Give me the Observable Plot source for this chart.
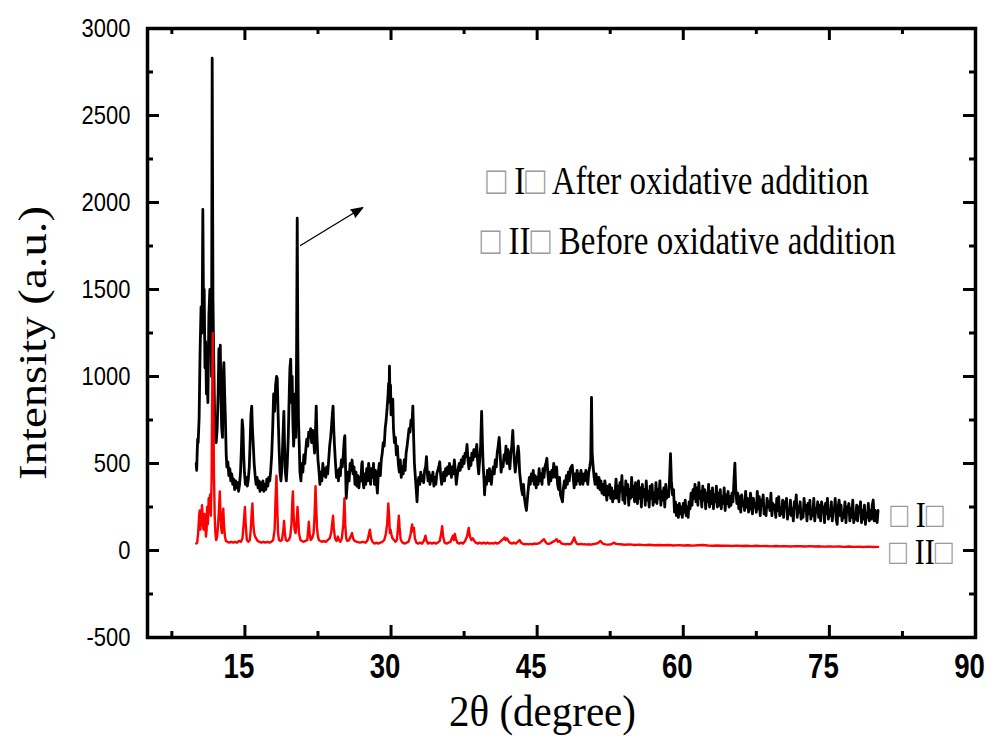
<!DOCTYPE html>
<html>
<head>
<meta charset="utf-8">
<script src="https://cdn.jsdelivr.net/npm/d3@7"></script>
<script src="https://cdn.jsdelivr.net/npm/@observablehq/plot@0.6"></script>
<style>
  html, body { margin: 0; padding: 0; background: #fff; }
  #chart { width: 997px; height: 742px; }
</style>
</head>
<body>
<div id="chart"></div>
<script>
// ---------- tick values ----------
const xMajorTicks = [15, 30, 45, 60, 75, 90];
const xMinorTicks = [7.5, 22.5, 37.5, 52.5, 67.5, 82.5];
const yMajorTicks = [-500, 0, 500, 1000, 1500, 2000, 2500, 3000];
const yMinorTicks = [-250, 250, 750, 1250, 1750, 2250, 2750];

// ---------- texts ----------
const xTitle = "2θ (degree)";
const yTitle = "Intensity (a.u.)";
const noteTexts = ["□ I□ After oxidative addition", "□ II□ Before oxidative addition"];
const noteAt = [[59.4, 2121], [60.5, 1776]];          // [2θ, intensity]
const curveLabels = ["□ I□", "□ II□"];
const curveLabelAt = [[84.0, 201], [84.4, -11]];      // [2θ, intensity]
const arrowFrom = [20.7, 1753];
const arrowTo = [27.1, 1971];

// ---------- series I : after oxidative addition  [2θ, intensity] ----------
const seriesI = [
[10.0,500],[10.05,460],[10.1,560],[10.15,640],[10.2,620],[10.3,760],[10.4,1150],[10.5,1400],[10.6,1250],[10.68,1960],
[10.75,1400],[10.82,1500],[10.9,1050],[10.97,1200],[11.05,900],[11.12,1000],[11.2,850],[11.3,1350],[11.4,1500],[11.5,1350],
[11.57,1000],[11.64,2830],[11.72,1450],[11.8,1100],[11.88,800],[11.95,650],[12.05,620],[12.15,700],[12.25,900],[12.33,1160],
[12.4,1050],[12.47,1180],[12.55,850],[12.62,700],[12.7,650],[12.77,1000],[12.84,1080],[12.92,900],[13.0,750],[13.08,550],
[13.15,480],[13.25,510],[13.35,430],[13.45,470],[13.55,400],[13.65,440],[13.75,380],[13.85,410],[13.95,350],[14.05,400],
[14.15,360],[14.25,390],[14.35,340],[14.45,380],[14.55,450],[14.65,600],[14.72,750],[14.8,700],[14.87,550],[14.95,450],
[15.05,380],[15.15,420],[15.25,370],[15.35,410],[15.45,480],[15.55,650],[15.62,780],[15.7,830],[15.77,700],[15.85,620],
[15.95,500],[16.05,430],[16.15,380],[16.25,420],[16.35,360],[16.45,400],[16.55,340],[16.65,390],[16.75,350],[16.85,400],
[16.95,340],[17.05,380],[17.15,350],[17.25,410],[17.35,370],[17.45,420],[17.55,400],[17.65,460],[17.75,550],[17.85,700],
[17.95,900],[18.05,800],[18.15,950],[18.25,1000],[18.32,990],[18.4,800],[18.5,600],[18.6,450],[18.7,400],[18.8,480],
[18.9,650],[19.0,800],[19.07,600],[19.15,450],[19.25,400],[19.35,500],[19.45,650],[19.55,900],[19.62,1050],[19.7,1100],
[19.78,850],[19.85,1000],[19.92,750],[20.0,600],[20.08,700],[20.15,900],[20.22,650],[20.3,1100],[20.37,1910],[20.43,1200],
[20.5,750],[20.58,600],[20.65,450],[20.75,400],[20.85,500],[20.95,450],[21.05,550],[21.15,500],[21.25,580],[21.35,640],
[21.45,600],[21.55,680],[21.65,650],[21.75,700],[21.85,620],[21.95,690],[22.05,640],[22.15,560],[22.25,700],[22.32,830],
[22.4,650],[22.5,520],[22.6,460],[22.7,380],[22.8,450],[22.9,400],[23.0,500],[23.1,430],[23.2,470],[23.3,420],
[23.4,480],[23.5,440],[23.6,520],[23.7,600],[23.8,650],[23.9,720],[24.0,800],[24.05,830],[24.12,700],[24.2,600],
[24.3,500],[24.4,420],[24.5,460],[24.6,400],[24.7,470],[24.8,430],[24.9,520],[25.0,480],[25.1,550],[25.2,640],
[25.26,660],[25.32,500],[25.4,300],[25.5,380],[25.6,450],[25.7,400],[25.8,500],[25.9,460],[26.0,520],[26.1,440],
[26.2,480],[26.3,380],[26.4,450],[26.5,370],[26.6,430],[26.7,360],[26.8,420],[26.9,400],[27.0,500],[27.05,510],
[27.12,400],[27.2,360],[27.3,440],[27.4,380],[27.5,470],[27.6,400],[27.7,500],[27.8,450],[27.9,380],[28.0,470],
[28.1,420],[28.2,500],[28.3,380],[28.4,460],[28.5,400],[28.6,330],[28.7,450],[28.8,500],[28.9,430],[29.0,520],
[29.1,560],[29.2,620],[29.3,600],[29.4,700],[29.5,750],[29.6,820],[29.7,900],[29.75,960],[29.8,900],[29.84,1060],
[29.9,850],[29.95,950],[30.0,780],[30.1,850],[30.18,870],[30.25,700],[30.35,620],[30.45,650],[30.55,550],[30.65,600],
[30.75,500],[30.85,450],[30.95,520],[31.05,420],[31.15,480],[31.25,440],[31.35,520],[31.45,460],[31.55,560],[31.65,600],
[31.75,650],[31.85,700],[31.95,680],[32.05,750],[32.15,720],[32.24,830],[32.32,650],[32.4,500],[32.5,420],[32.6,340],
[32.67,280],[32.75,380],[32.85,420],[32.95,380],[33.05,450],[33.15,400],[33.25,430],[33.35,390],[33.45,460],[33.55,480],
[33.64,540],[33.72,450],[33.8,400],[33.9,450],[34.0,380],[34.1,430],[34.2,400],[34.3,450],[34.4,370],[34.5,420],
[34.6,380],[34.7,440],[34.8,460],[34.9,480],[35.0,510],[35.1,430],[35.2,380],[35.3,420],[35.4,450],[35.5,400],
[35.6,470],[35.7,430],[35.8,480],[35.9,440],[36.0,500],[36.1,470],[36.2,420],[36.3,480],[36.4,440],[36.5,520],
[36.6,460],[36.7,380],[36.8,430],[36.9,470],[37.0,500],[37.1,460],[37.2,520],[37.3,480],[37.4,540],[37.5,500],
[37.6,560],[37.7,540],[37.8,610],[37.9,520],[38.0,470],[38.1,530],[38.2,490],[38.3,560],[38.4,520],[38.5,580],
[38.6,540],[38.7,560],[38.8,610],[38.9,500],[39.0,440],[39.1,520],[39.2,600],[39.3,800],[39.38,620],[39.45,500],
[39.55,400],[39.6,320],[39.7,420],[39.8,380],[39.9,460],[40.0,400],[40.1,470],[40.2,420],[40.3,380],[40.4,450],
[40.5,480],[40.6,440],[40.7,520],[40.8,480],[40.9,560],[41.0,600],[41.1,650],[41.2,560],[41.3,450],[41.4,500],
[41.5,480],[41.6,550],[41.7,520],[41.8,600],[41.9,500],[42.0,580],[42.1,520],[42.2,470],[42.3,560],[42.4,600],
[42.5,690],[42.55,620],[42.65,520],[42.75,450],[42.85,500],[42.95,550],[43.05,600],[43.12,560],[43.2,450],[43.3,400],
[43.4,350],[43.5,320],[43.6,380],[43.7,300],[43.8,260],[43.9,230],[44.0,300],[44.1,360],[44.2,420],[44.3,380],
[44.4,440],[44.5,400],[44.6,460],[44.7,380],[44.8,430],[44.9,360],[45.0,420],[45.1,380],[45.2,470],[45.3,400],
[45.4,440],[45.5,380],[45.6,470],[45.7,420],[45.8,480],[45.9,500],[46.0,530],[46.1,440],[46.2,380],[46.3,450],
[46.4,400],[46.5,460],[46.6,420],[46.7,500],[46.8,450],[46.9,420],[47.0,480],[47.1,380],[47.2,350],[47.3,420],
[47.4,320],[47.5,300],[47.6,280],[47.7,360],[47.8,400],[47.9,360],[48.0,430],[48.1,380],[48.2,450],[48.3,400],
[48.4,470],[48.5,480],[48.6,490],[48.7,420],[48.8,360],[48.9,440],[49.0,380],[49.1,460],[49.2,400],[49.3,440],
[49.4,380],[49.5,460],[49.6,420],[49.7,380],[49.8,440],[49.9,400],[50.0,460],[50.1,420],[50.2,380],[50.3,450],
[50.4,480],[50.5,520],[50.58,880],[50.65,560],[50.75,480],[50.85,420],[50.95,380],[51.05,440],[51.15,400],[51.25,360],
[51.35,420],[51.45,350],[51.55,400],[51.65,330],[51.75,380],[51.85,320],[51.95,400],[52.05,350],[52.15,290],[52.25,370],
[52.35,320],[52.45,380],[52.55,300],[52.65,360],[52.75,280],[52.85,340],[52.95,300],
[53.0,330],[53.1,410],[53.2,300],[53.3,370],[53.4,280],[53.5,390],[53.6,340],[53.7,430],[53.8,290],[53.9,360],
[54.0,270],[54.1,400],[54.2,320],[54.3,380],[54.4,260],[54.5,350],[54.6,300],[54.7,420],[54.8,310],[54.9,370],
[55.0,280],[55.1,390],[55.2,330],[55.3,270],[55.4,400],[55.5,300],[55.6,360],[55.7,250],[55.8,380],[55.9,310],
[56.0,350],[56.1,260],[56.2,400],[56.3,290],[56.4,340],[56.5,250],[56.6,370],[56.7,300],[56.8,380],[56.9,260],
[57.0,330],[57.1,280],[57.2,390],[57.3,270],[57.4,350],[57.5,300],[57.6,400],[57.7,260],[57.8,340],[57.9,290],
[58.0,360],[58.1,250],[58.2,380],[58.3,300],[58.4,340],[58.5,310],[58.6,420],[58.69,556],[58.78,400],[58.9,320],
[59.0,350],[59.1,220],[59.2,280],[59.3,200],[59.4,260],[59.5,190],[59.6,270],[59.7,210],[59.8,250],[59.9,190],
[60.0,270],[60.1,220],[60.2,290],[60.3,200],[60.4,250],[60.5,190],[60.6,280],[60.7,240],[60.8,330],[60.9,260],
[61.0,350],[61.1,300],[61.2,380],[61.3,280],[61.4,360],[61.5,260],[61.6,390],[61.7,300],[61.8,340],[61.9,250],
[62.0,370],[62.1,290],[62.2,350],[62.3,240],[62.4,330],[62.5,280],[62.6,380],[62.7,250],[62.8,340],[62.9,270],
[63.0,360],[63.1,240],[63.2,320],[63.3,280],[63.4,370],[63.5,250],[63.6,330],[63.7,260],[63.8,350],[63.9,240],
[64.0,310],[64.1,270],[64.2,360],[64.3,230],[64.4,320],[64.5,270],[64.6,340],[64.7,250],[64.8,310],[64.9,260],
[65.0,330],[65.1,280],[65.22,420],[65.3,502],[65.38,360],[65.5,270],[65.6,330],[65.7,240],[65.8,310],[65.9,220],
[66.0,320],[66.1,260],[66.2,280],[66.3,230],[66.4,340],[66.5,250],[66.6,300],[66.7,220],[66.8,240],[66.9,330],
[67.0,280],[67.1,210],[67.2,300],[67.3,250],[67.4,270],[67.5,220],[67.6,340],[67.7,240],[67.8,310],[67.9,200],
[68.0,290],[68.1,260],[68.2,320],[68.3,210],[68.4,230],[68.5,200],[68.6,300],[68.7,250],[68.8,280],[68.9,230],
[69.0,330],[69.1,200],[69.2,270],[69.3,240],[69.4,260],[69.5,190],[69.6,300],[69.7,230],[69.8,310],[69.9,200],
[70.0,240],[70.1,210],[70.2,290],[70.3,190],[70.4,280],[70.5,260],[70.6,300],[70.7,180],[70.8,230],[70.9,210],
[71.0,290],[71.1,200],[71.2,240],[71.3,170],[71.4,280],[71.5,250],[71.6,320],[71.7,190],[71.8,250],[71.9,220],
[72.0,280],[72.1,180],[72.2,210],[72.3,190],[72.4,300],[72.5,230],[72.6,260],[72.7,170],[72.8,270],[72.9,210],
[73.0,290],[73.1,180],[73.2,230],[73.3,200],[73.4,300],[73.5,170],[73.6,240],[73.7,220],[73.8,280],[73.9,190],
[74.0,260],[74.1,170],[74.2,280],[74.3,240],[74.4,250],[74.5,160],[74.6,270],[74.7,210],[74.8,300],[74.9,180],
[75.0,220],[75.1,200],[75.2,280],[75.3,170],[75.4,240],[75.5,230],[75.6,300],[75.7,180],[75.8,150],[75.9,250],
[76.0,290],[76.1,200],[76.2,260],[76.3,170],[76.4,210],[76.5,190],[76.6,280],[76.7,160],[76.8,250],[76.9,230],
[77.0,270],[77.1,170],[77.2,240],[77.3,190],[77.4,290],[77.5,160],[77.6,200],[77.7,180],[77.8,260],[77.9,170],
[78.0,250],[78.1,220],[78.2,280],[78.3,160],[78.4,230],[78.5,180],[78.6,260],[78.7,150],[78.8,210],[78.9,190],
[79.0,270],[79.1,170],[79.2,230],[79.3,180],[79.4,260],[79.5,290],[79.6,170],[79.7,230],[79.8,180],[79.9,160],[80.0,230]
];

// ---------- series II : before oxidative addition  [2θ, intensity] ----------
const seriesII = [
[10.0,40],[10.1,45],[10.2,100],[10.3,200],[10.36,230],[10.42,120],[10.5,180],[10.6,260],[10.68,150],[10.75,120],
[10.85,210],[10.92,160],[11.0,80],[11.07,120],[11.12,250],[11.2,150],[11.28,300],[11.35,250],[11.42,320],[11.5,200],
[11.58,400],[11.64,900],[11.7,1250],[11.76,900],[11.82,450],[11.9,200],[11.97,100],[12.05,60],[12.15,80],[12.25,150],
[12.35,250],[12.42,340],[12.5,200],[12.58,120],[12.65,100],[12.72,200],[12.78,240],[12.85,150],[12.95,80],[13.05,55],
[13.2,50],[13.4,45],[13.6,50],[13.8,45],[14.0,50],[14.2,45],[14.4,55],[14.6,50],[14.75,70],[14.9,170],
[15.0,250],[15.08,150],[15.2,60],[15.35,50],[15.5,60],[15.6,120],[15.7,220],[15.77,270],[15.85,160],[15.95,100],
[16.05,80],[16.15,70],[16.3,55],[16.5,50],[16.7,45],[16.9,50],[17.1,45],[17.3,50],[17.5,45],[17.7,50],
[17.9,60],[18.05,120],[18.15,300],[18.24,430],[18.32,250],[18.4,100],[18.5,60],[18.65,55],[18.8,60],[18.95,120],
[19.02,170],[19.1,100],[19.2,60],[19.35,55],[19.5,60],[19.65,80],[19.78,150],[19.88,300],[19.93,340],[20.0,200],
[20.1,120],[20.2,100],[20.3,150],[20.4,250],[20.46,200],[20.55,100],[20.7,60],[20.85,55],[21.0,50],[21.2,55],
[21.4,60],[21.5,120],[21.56,165],[21.64,100],[21.75,60],[21.9,70],[22.05,100],[22.15,200],[22.25,370],[22.32,250],
[22.4,130],[22.5,80],[22.6,60],[22.75,55],[22.9,50],[23.1,55],[23.3,50],[23.5,60],[23.7,70],[23.85,100],
[23.95,150],[24.05,200],[24.12,130],[24.25,70],[24.4,55],[24.55,80],[24.65,60],[24.8,50],[24.95,70],[25.1,150],
[25.22,300],[25.3,150],[25.4,70],[25.5,55],[25.7,60],[25.85,80],[26.0,100],[26.1,70],[26.25,55],[26.5,50],
[26.8,45],[27.1,50],[27.4,45],[27.6,60],[27.75,100],[27.83,120],[27.95,70],[28.1,50],[28.3,40],[28.5,45],
[28.7,40],[28.9,45],[29.1,50],[29.3,60],[29.45,90],[29.6,150],[29.72,270],[29.8,200],[29.88,100],[29.95,120],
[30.05,90],[30.15,70],[30.3,60],[30.45,50],[30.6,60],[30.7,120],[30.8,200],[30.88,130],[31.0,60],[31.2,45],
[31.4,40],[31.6,45],[31.8,50],[32.0,90],[32.1,130],[32.17,150],[32.25,110],[32.35,130],[32.45,70],[32.6,45],
[32.8,40],[33.0,45],[33.2,40],[33.4,60],[33.54,85],[33.65,55],[33.8,40],[34.0,45],[34.2,40],[34.4,45],
[34.6,40],[34.8,45],[35.0,55],[35.15,100],[35.25,140],[35.35,80],[35.5,45],[35.7,40],[35.9,45],[36.1,50],
[36.25,70],[36.35,85],[36.45,60],[36.55,95],[36.65,70],[36.8,45],[37.0,40],[37.2,45],[37.4,40],[37.6,55],
[37.8,80],[37.9,110],[37.98,130],[38.1,80],[38.25,60],[38.4,70],[38.55,55],[38.7,45],[38.9,40],[39.1,45],
[39.3,40],[39.5,45],[39.7,40],[39.9,45],[40.1,40],[40.3,42],[40.5,40],[40.7,45],[40.9,40],[41.1,45],
[41.3,55],[41.5,65],[41.65,75],[41.75,60],[41.9,70],[42.05,55],[42.2,45],[42.4,40],[42.6,45],[42.8,40],
[43.0,50],[43.2,60],[43.35,45],[43.5,40],[43.7,35],[43.9,38],[44.1,35],[44.3,38],[44.5,35],[44.7,40],
[44.9,38],[45.1,40],[45.3,45],[45.5,55],[45.7,65],[45.85,50],[46.0,40],[46.2,38],[46.4,42],[46.6,50],
[46.8,55],[47.0,65],[47.15,50],[47.3,55],[47.5,40],[47.7,38],[47.9,35],[48.1,38],[48.3,35],[48.5,40],
[48.7,60],[48.8,75],[48.95,50],[49.1,38],[49.3,35],[49.5,38],[49.7,35],[49.9,36],[50.1,34],[50.3,36],
[50.5,34],[50.7,36],[50.9,38],[51.1,40],[51.3,45],[51.5,55],[51.65,45],[51.8,38],[52.0,35],[52.3,34],
[52.6,36],[52.9,45],[53.1,38],[53.5,36],[54.0,33],[54.5,35],[55.0,32],[55.5,34],[56.0,31],[56.5,33],
[57.0,30],[57.5,32],[58.0,30],[58.5,32],[59.0,29],[59.5,31],[60.0,29],[60.5,30],[61.0,28],[61.5,30],
[62.0,32],[62.5,29],[63.0,27],[63.5,29],[64.0,27],[64.5,28],[65.0,26],[65.5,28],[66.0,26],[66.5,27],
[67.0,25],[67.5,27],[68.0,25],[68.5,26],[69.0,24],[69.5,26],[70.0,24],[70.5,25],[71.0,23],[71.5,25],
[72.0,24],[72.5,23],[73.0,25],[73.5,23],[74.0,24],[74.5,22],[75.0,24],[75.5,22],[76.0,23],[76.5,21],
[77.0,23],[77.5,21],[78.0,22],[78.5,20],[79.0,22],[79.5,20],[80.0,21]
];

// ---------- layout ----------
const W = 997, H = 742;
const mL = 147, mR = 22, mT = 28, mB = 105;
const plotW = W - mL - mR, plotH = H - mT - mB;
const majorLen = 12, minorLen = 6;
const serif = "'Liberation Serif', 'Times New Roman', serif";
const sans = "'Liberation Sans', Arial, sans-serif";

const notes = noteTexts.map((t, i) => ({text: t, x: noteAt[i][0], y: noteAt[i][1]}));
const curveTags = curveLabels.map((t, i) => ({text: t, x: curveLabelAt[i][0], y: curveLabelAt[i][1]}));
const arrows = [{x1: arrowFrom[0], y1: arrowFrom[1], x2: arrowTo[0], y2: arrowTo[1]}];

const chart = Plot.plot({
  width: W, height: H,
  marginLeft: mL, marginRight: mR, marginTop: mT, marginBottom: mB,
  style: {background: "#fff", fontFamily: sans, color: "#000"},
  x: {domain: [5, 90]},
  y: {domain: [-500, 3000]},
  marks: [
    Plot.line(seriesI, {x: d => d[0], y: d => d[1], stroke: "#000", strokeWidth: 2.8, strokeLinejoin: "round"}),
    Plot.line(seriesII, {x: d => d[0], y: d => d[1], stroke: "#ff0000", strokeWidth: 2.4, strokeLinejoin: "round"}),
    // inward ticks, all four sides
    Plot.ruleX(xMajorTicks, {insetTop: plotH - majorLen, strokeWidth: 3}),
    Plot.ruleX(xMajorTicks, {insetBottom: plotH - majorLen, strokeWidth: 3}),
    Plot.ruleX(xMinorTicks, {insetTop: plotH - minorLen, strokeWidth: 3}),
    Plot.ruleX(xMinorTicks, {insetBottom: plotH - minorLen, strokeWidth: 3}),
    Plot.ruleY(yMajorTicks, {insetRight: plotW - majorLen, strokeWidth: 3}),
    Plot.ruleY(yMajorTicks, {insetLeft: plotW - majorLen, strokeWidth: 3}),
    Plot.ruleY(yMinorTicks, {insetRight: plotW - minorLen, strokeWidth: 3}),
    Plot.ruleY(yMinorTicks, {insetLeft: plotW - minorLen, strokeWidth: 3}),
    Plot.frame({stroke: "#000", strokeWidth: 3.5}),
    Plot.axisX(xMajorTicks, {tickSize: 0, tickPadding: 15, dx: -6, fontSize: 30, fontWeight: "bold", fontFamily: sans, label: null, tickFormat: d => `${d}`}),
    Plot.axisY(yMajorTicks, {tickSize: 0, tickPadding: 17, fontSize: 22, fontFamily: sans, label: null, tickFormat: d => `${d}`}),
    Plot.text([xTitle], {frameAnchor: "bottom", textAnchor: "middle", dx: -19, dy: 88, fontSize: 41, fontFamily: serif, fill: "#000", ariaLabel: "x-title"}),
    Plot.text([yTitle], {frameAnchor: "left", textAnchor: "middle", dx: -114, dy: 10, rotate: -90, fontSize: 39, fontFamily: serif, fill: "#000"}),
    Plot.text(notes, {x: "x", y: "y", text: "text", fontSize: 33, fontFamily: serif, fill: "#000"}),
    Plot.text(curveTags, {x: "x", y: "y", text: "text", fontSize: 30, fontFamily: serif, fill: "#000"}),
    Plot.arrow(arrows, {x1: "x1", y1: "y1", x2: "x2", y2: "y2", stroke: "#000", strokeWidth: 1.3, headLength: 14, headAngle: 40})
  ]
});

document.getElementById("chart").appendChild(chart);

// the reference artwork is stretched vertically (~1.2x); mimic on text glyphs
d3.select(chart).selectAll("text").each(function () {
  const t = this.getAttribute("transform") || "";
  const rotated = /rotate/.test(t);
  const isXTitle = this.textContent === xTitle;
  this.setAttribute("transform", t + (rotated ? " scale(1.2,1)" : isXTitle ? " scale(1,1.1)" : " scale(1,1.2)"));
  // grey tofu boxes
  const s = this.textContent;
  if (s.includes("□")) {
    this.textContent = "";
    for (const part of s.split(/(□)/)) {
      if (!part) continue;
      const ts = document.createElementNS("http://www.w3.org/2000/svg", "tspan");
      ts.textContent = part;
      if (part === "□") { ts.setAttribute("fill", "#9a9a9a"); }
      this.appendChild(ts);
    }
  }
});
// condensed look of x tick labels
d3.select(chart).selectAll('g[aria-label="x-axis tick label"] text').each(function () {
  this.setAttribute("transform", this.getAttribute("transform") + " scale(0.92,1)");
});
// solid arrow head
d3.select(chart).selectAll('g[aria-label="arrow"] path').attr("fill", "#000");
</script>
</body>
</html>
